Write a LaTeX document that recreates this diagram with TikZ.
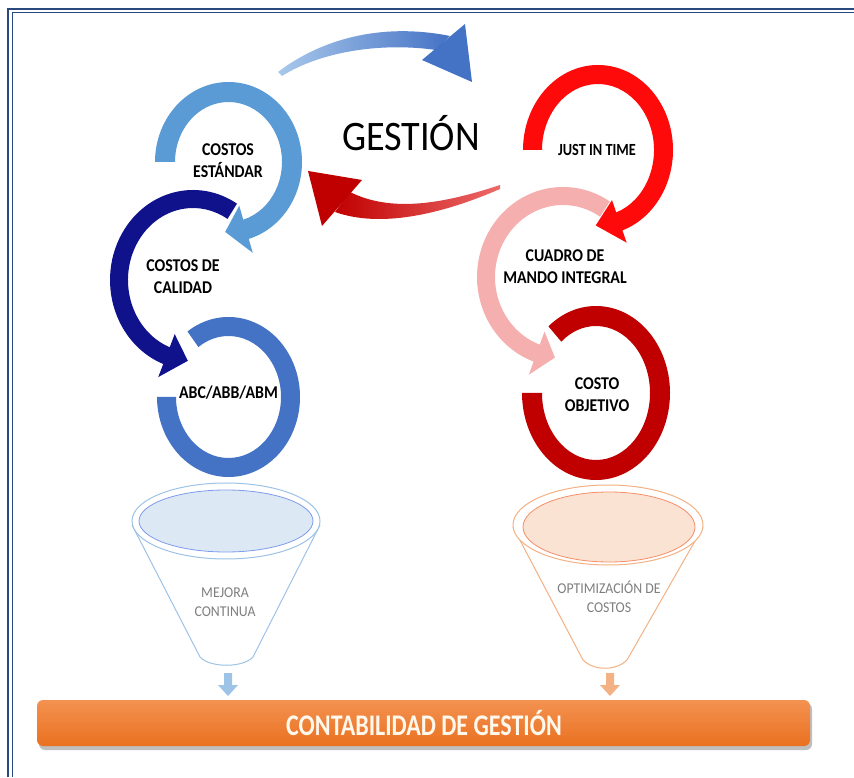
\documentclass[tikz,border=0pt]{standalone}
\usepackage{fontspec}
\setmainfont{Carlito}
\newfontfamily\ringfont[FakeStretch=0.88]{Carlito}
\newfontfamily\jitfont[FakeStretch=0.84]{Carlito}
\newfontfamily\gestfont[FakeStretch=0.91]{Carlito}
\newfontfamily\funfont[FakeStretch=0.92]{Carlito}
\newfontfamily\barfont[FakeStretch=0.8]{Carlito}
\usetikzlibrary{calc}
\definecolor{lb}{HTML}{5B9BD5}
\definecolor{db}{HTML}{10128C}
\definecolor{mb}{HTML}{4472C4}
\definecolor{rr}{HTML}{FF0A0A}
\definecolor{pk}{HTML}{F5AFAF}
\definecolor{dr}{HTML}{C00000}
\definecolor{framec}{HTML}{2A4A7F}
\definecolor{fblue}{HTML}{9DC3E6}
\definecolor{fbluein}{HTML}{DDE8F5}
\definecolor{forg}{HTML}{F4B183}
\definecolor{forgin}{HTML}{FBE3D3}
\definecolor{bartop}{HTML}{F39250}
\definecolor{barbot}{HTML}{EA7121}
\definecolor{gtext}{HTML}{7F7F7F}
\definecolor{blt}{HTML}{A9C8EC}
\definecolor{rlt}{HTML}{EE6A6A}
\definecolor{bartext}{HTML}{FFF8EC}
\newcommand{\ringarrow}[9]{%
  \fill[#1, shift={#2}]
   (#6:{#3+#5} and {#4+#5}) arc[start angle=#6, end angle=#7, x radius={#3+#5}, y radius={#4+#5}]
   -- (#7:{#3+#8} and {#4+#8}) -- (#9:#3 and #4) -- (#7:{#3-#8} and {#4-#8})
   -- (#7:{#3-#5} and {#4-#5}) arc[start angle=#7, end angle=#6, x radius={#3-#5}, y radius={#4-#5}] -- cycle;}
\newcommand{\ringplain}[7]{%
  \fill[#1, shift={#2}]
   (#6:{#3+#5} and {#4+#5}) arc[start angle=#6, end angle=#7, x radius={#3+#5}, y radius={#4+#5}]
   -- (#7:{#3-#5} and {#4-#5}) arc[start angle=#7, end angle=#6, x radius={#3-#5}, y radius={#4-#5}] -- cycle;}
\begin{document}
\begin{tikzpicture}[x=1pt,y=1pt,
  ringtext/.style={font=\ringfont\fontsize{18}{22}\selectfont\bfseries, align=center, text=black, inner sep=0pt},
  funtext/.style={font=\funfont\fontsize{15}{19}\selectfont, align=center, text=gtext, inner sep=0pt},
  frameline/.style={draw=framec}]
\useasboundingbox (0,0) rectangle (854,777);
\fill[white] (0,0) rectangle (854,777);
% frame
\draw[frameline, line width=2] (8,0) -- (8,768) -- (854,768);
\draw[frameline, line width=1] (12,0) -- (12,764) -- (854,764);

% left column rings
\ringplain{mb}{(228.5,380)}{62}{70.5}{9.5}{125}{-180}
\ringarrow{db}{(193,497)}{74}{81}{9}{58}{249}{23}{266}
\ringarrow{lb}{(228.5,615)}{63.5}{70}{10}{180}{-74}{24.5}{-93}

% right column rings
\ringplain{dr}{(596,384)}{64}{77}{10}{130}{-180}
\ringarrow{pk}{(563,500)}{77}{81}{9}{57}{250}{23}{264}
\ringarrow{rr}{(598,627)}{65.5}{75.5}{9.5}{180}{-71}{22.5}{-92}

% big blue arrow
\shade[left color=blt, right color=mb]
  (278,705) .. controls (320,737) and (380,755) .. (450,741)
  -- (436,727) .. controls (380,735) and (320,725) .. (282,701) -- cycle;
\fill[mb] (465,753) -- (472,695) -- (422,717) -- cycle;
% big red arrow
\shade[left color=dr, right color=rlt]
  (350,585) .. controls (390,565) and (440,572) .. (500,592)
  -- (500,588) .. controls (440,562) and (380,549) .. (335,565) -- cycle;
\fill[dr] (308,606) -- (362,597) -- (322,551) -- cycle;

% texts
\node[font=\gestfont\fontsize{42}{46}\selectfont] (gestion) at (411,644) {GESTIÓN};
\node[ringtext] (ce) at (228,616) {COSTOS\\ESTÁNDAR};
\node[ringtext] (cc) at (183,500) {COSTOS DE\\CALIDAD};
\node[ringtext] (abc) at (228.5,384) {ABC/ABB/ABM};
\node[ringtext, font=\jitfont\fontsize{17}{21}\selectfont\bfseries] (jit) at (597,627) {JUST IN TIME};
\node[ringtext] (cmi) at (565,510) {CUADRO DE\\MANDO INTEGRAL};
\node[ringtext] (co) at (597,382) {COSTO\\OBJETIVO};

% left funnel
\draw[fblue, line width=1, fill=white] (132,252) -- (200,120) .. controls (210,109) and (243,109) .. (253,120) -- (320,252);
\draw[fblue, line width=1, fill=white] (226,256) ellipse[x radius=94, y radius=38];
\draw[fblue!80!blue, line width=0.8, fill=fbluein] (226,256) ellipse[x radius=87, y radius=31];
\node[funtext] (mc) at (225,175) {MEJORA\\CONTINUA};
% right funnel
\draw[forg, line width=1, fill=white] (513,250) -- (583,117) .. controls (594,106) and (616,106) .. (627,117) -- (703,250);
\draw[forg, line width=1, fill=white] (608,252) ellipse[x radius=95, y radius=40];
\draw[forg!80!red, line width=0.8, fill=forgin] (609,250) ellipse[x radius=86, y radius=35];
\node[funtext] (oc) at (609,180) {OPTIMIZACIÓN DE\\COSTOS};

% small arrows
\fill[fblue] (224,104) -- (232,104) -- (232,92) -- (238,92) -- (228,81) -- (218,92) -- (224,92) -- cycle;
\fill[forg] (606,104) -- (614,104) -- (614,92) -- (620,92) -- (610,81) -- (600,92) -- (606,92) -- cycle;

% bottom bar
\fill[black, opacity=0.25, rounded corners=6] (39,27) rectangle (812,74);
\shade[top color=bartop, bottom color=barbot, rounded corners=6] (37,31) rectangle (810,77);
\node[font=\barfont\fontsize{30}{34}\selectfont\bfseries, text=bartext] (cg) at (424,54) {CONTABILIDAD DE GESTIÓN};
\end{tikzpicture}
\end{document}
